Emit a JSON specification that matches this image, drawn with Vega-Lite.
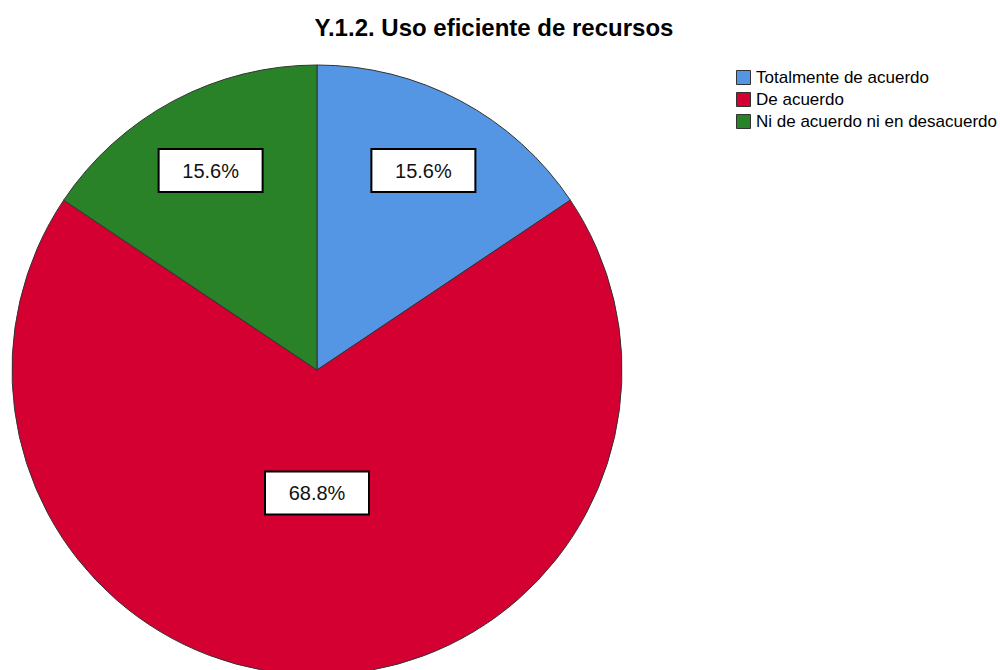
{
  "$schema": "https://vega.github.io/schema/vega-lite/v6.json",
  "width": 610,
  "height": 610,
  "autosize": "none",
  "padding": {"left": 12, "top": 65, "right": 378, "bottom": 0},
  "background": "white",
  "view": {"stroke": null},
  "title": {
    "text": "Y.1.2. Uso eficiente de recursos",
    "font": "Liberation Sans",
    "fontSize": 24,
    "fontWeight": "bold",
    "color": "black",
    "anchor": "middle",
    "frame": "group",
    "dx": 177,
    "offset": 22
  },
  "data": {
    "values": [
      {"categoria": "Totalmente de acuerdo", "porcentaje": 15.6, "orden": 1},
      {"categoria": "De acuerdo", "porcentaje": 68.8, "orden": 2},
      {"categoria": "Ni de acuerdo ni en desacuerdo", "porcentaje": 15.6, "orden": 3}
    ]
  },
  "layer": [
    {
      "mark": {"type": "arc", "outerRadius": 305, "stroke": "#333333", "strokeWidth": 1},
      "encoding": {
        "theta": {"field": "porcentaje", "type": "quantitative", "stack": true},
        "order": {"field": "orden", "type": "quantitative"},
        "color": {
          "field": "categoria",
          "type": "nominal",
          "sort": ["Totalmente de acuerdo", "De acuerdo", "Ni de acuerdo ni en desacuerdo"],
          "scale": {
            "domain": ["Totalmente de acuerdo", "De acuerdo", "Ni de acuerdo ni en desacuerdo"],
            "range": ["#5596E4", "#D50032", "#2A8228"]
          },
          "legend": {
            "title": null,
            "orient": "none",
            "legendX": 723,
            "legendY": 4,
            "symbolType": "square",
            "symbolSize": 196,
            "symbolStrokeColor": "#333333",
            "symbolStrokeWidth": 1,
            "symbolOpacity": 1,
            "labelFont": "Liberation Sans",
            "labelFontSize": 17,
            "labelColor": "black",
            "labelOffset": 4,
            "rowPadding": 3,
            "labelLimit": 400
          }
        }
      }
    },
    {
      "transform": [
        {"window": [{"op": "sum", "field": "porcentaje", "as": "acum"}], "sort": [{"field": "orden"}], "frame": [null, 0]},
        {"joinaggregate": [{"op": "sum", "field": "porcentaje", "as": "total"}]},
        {"calculate": "(datum.acum - datum.porcentaje / 2) / datum.total * 2 * PI", "as": "ang"},
        {"calculate": "datum.porcentaje > 50 ? 123 : 226", "as": "r"},
        {"calculate": "datum.r * sin(datum.ang)", "as": "px"},
        {"calculate": "datum.r * cos(datum.ang)", "as": "py"},
        {"calculate": "format(datum.porcentaje, '.1f') + '%'", "as": "etiqueta"}
      ],
      "layer": [
        {
          "mark": {
            "type": "point",
            "shape": "M-1,-0.4135H1V0.4135H-1Z",
            "size": 10816,
            "filled": true,
            "fill": "white",
            "stroke": "black",
            "strokeWidth": 2,
            "opacity": 1
          },
          "encoding": {
            "x": {"field": "px", "type": "quantitative", "scale": {"domain": [-305, 305]}, "axis": null},
            "y": {"field": "py", "type": "quantitative", "scale": {"domain": [-305, 305]}, "axis": null}
          }
        },
        {
          "mark": {"type": "text", "font": "Liberation Sans", "fontSize": 20, "color": "#111111", "baseline": "middle", "align": "center", "dy": 1},
          "encoding": {
            "x": {"field": "px", "type": "quantitative", "scale": {"domain": [-305, 305]}, "axis": null},
            "y": {"field": "py", "type": "quantitative", "scale": {"domain": [-305, 305]}, "axis": null},
            "text": {"field": "etiqueta", "type": "nominal"}
          }
        }
      ]
    }
  ]
}
